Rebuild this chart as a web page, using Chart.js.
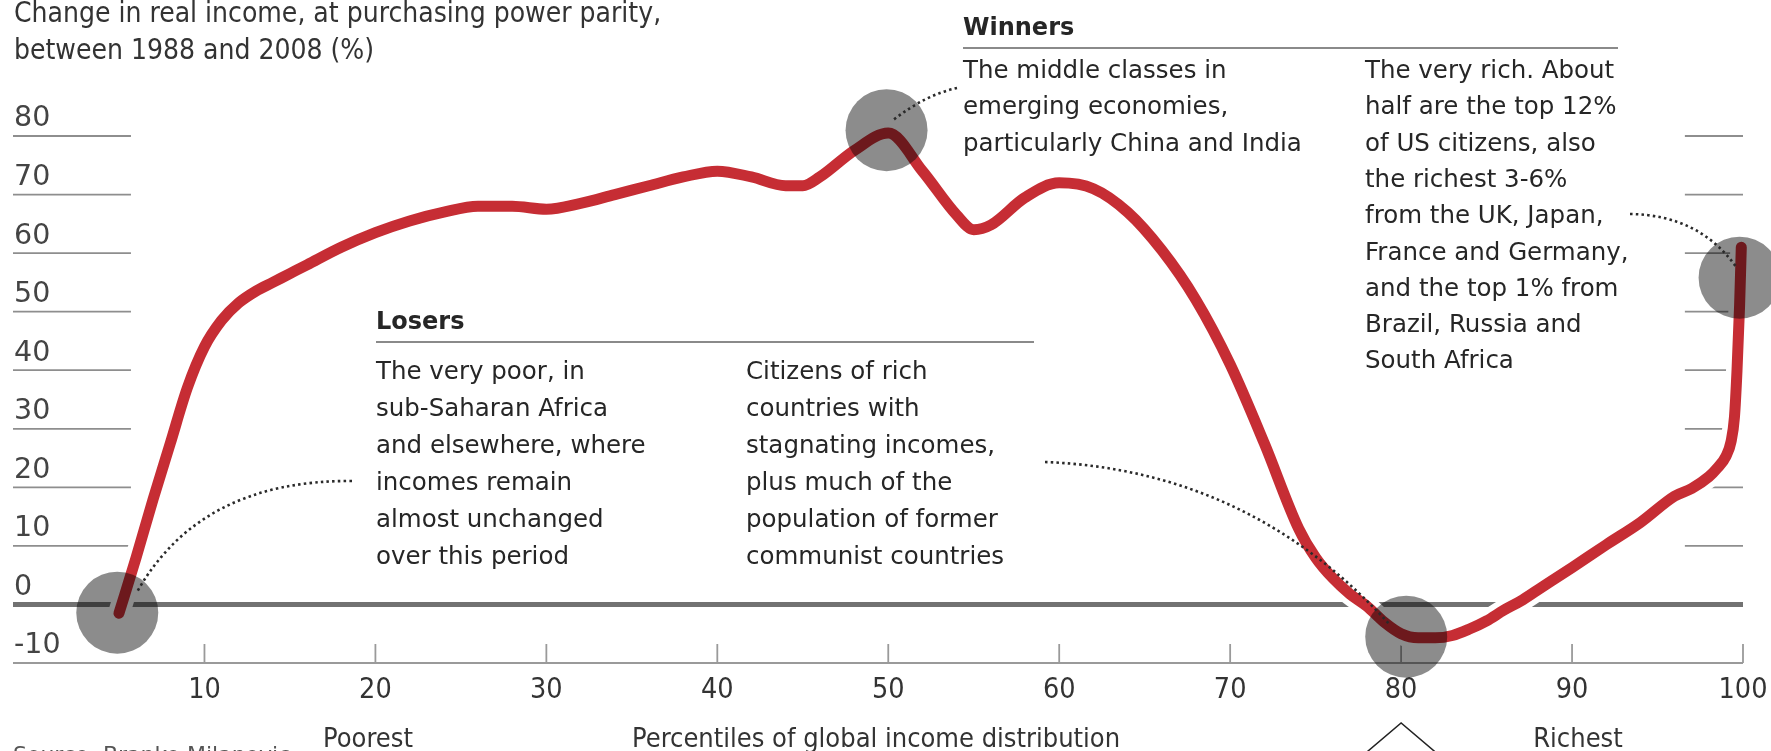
<!DOCTYPE html>
<html><head><meta charset="utf-8">
<script src="https://cdn.jsdelivr.net/npm/chart.js@4.4.1/dist/chart.umd.min.js"></script>
<style>html,body{margin:0;padding:0;background:#fff;overflow:hidden}#c{display:block}</style>
</head><body>
<canvas id="c" width="1771" height="751"></canvas>
<script>
// ---- data ----
const percentiles = [5,6,7,8,9,10,11,12,13,14,15,16,18,20,22,24,26,28,30,32,34,36,38,40,42,44,45,46,48,50,52,54,55,56,58,60,62,64,66,68,70,72,74,75,76,77,78,79,80,81,82,83,84,85,86,87,88,90,92,94,96,97,98,98.5,99,99.3,99.5,99.65,99.8,99.9];
const incomeChange = [-1.5,8,18,27.5,37,44,48.5,51.5,53.5,55,56.5,58,61,63.5,65.5,67,68,68,67.5,68.5,70,71.5,73,74,73,71.5,71.5,73,77.5,80.5,74,66.5,64,64.8,69.5,72,71,67,60.5,52,41,27.5,13,8,4.5,1.8,-0.3,-3,-5,-5.7,-5.7,-5.3,-4.2,-2.8,-1,0.6,2.5,6.3,10.2,14,18.5,19.8,21.8,23.3,25.3,27.8,32,40,51,61];
const markerPercentiles = [4.9, 49.9, 80.3, 99.8];
const markerValues = [-1.4, 81, -5.5, 55.8];
const xTickValues = [10,20,30,40,50,60,70,80,90,100];
const yTickValues = [-10,0,10,20,30,40,50,60,70,80];
const titleLines = ["Change in real income, at purchasing power parity,", "between 1988 and 2008 (%)"];
const winnersLeft = ["The middle classes in","emerging economies,","particularly China and India"];
const winnersRight = ["The very rich. About","half are the top 12%","of US citizens, also","the richest 3-6%","from the UK, Japan,","France and Germany,","and the top 1% from","Brazil, Russia and","South Africa"];
const losersLeft = ["The very poor, in","sub-Saharan Africa","and elsewhere, where","incomes remain","almost unchanged","over this period"];
const losersRight = ["Citizens of rich","countries with","stagnating incomes,","plus much of the","population of former","communist countries"];
const axisWords = ["Poorest","Percentiles of global income distribution","Richest"];
const sourceText = "Source: Branko Milanovic";

// ---- fonts ----
function hasFont(name){
  const c=document.createElement('canvas').getContext('2d');
  const s='Percentiles of global income 0123456789';
  c.font='40px monospace'; const a=c.measureText(s).width;
  c.font='40px "'+name+'", monospace'; const b=c.measureText(s).width;
  return Math.abs(a-b)>0.5;
}
const condOK = hasFont('DejaVu Sans Condensed');
function condFont(size, weight){
  return condOK ? (weight||'normal')+' '+size+'px "DejaVu Sans Condensed"' : (weight||'normal')+' '+(size*0.9).toFixed(1)+'px "DejaVu Sans"';
}
const condFamily = condOK ? '"DejaVu Sans Condensed"' : '"DejaVu Sans"';
const condTickSize = condOK ? 28.5 : 25.6;

const X_MIN = -1.2, X_MAX = 100;
const GRID_LEFT_END = 5.7, GRID_RIGHT_START = 96.6;

const decor = {
  id:'decor',
  beforeDatasetsDraw(chart){
    const {ctx, chartArea:a, scales:{x,y}} = chart;
    ctx.save();
    yTickValues.forEach(v=>{
      const yy = y.getPixelForValue(v);
      ctx.beginPath();
      if (v===0){ ctx.strokeStyle='#727272'; ctx.lineWidth=5; ctx.moveTo(a.left,yy); ctx.lineTo(a.right,yy); }
      else if (v===-10){ ctx.strokeStyle='#9a9a9a'; ctx.lineWidth=2; ctx.moveTo(a.left,yy); ctx.lineTo(a.right,yy); }
      else {
        ctx.strokeStyle='#8e8e8e'; ctx.lineWidth=1.8;
        ctx.moveTo(x.getPixelForValue(X_MIN),yy); ctx.lineTo(x.getPixelForValue(GRID_LEFT_END),yy);
        ctx.moveTo(x.getPixelForValue(GRID_RIGHT_START),yy); ctx.lineTo(x.getPixelForValue(X_MAX),yy);
      }
      ctx.stroke();
    });
    ctx.strokeStyle='#9a9a9a'; ctx.lineWidth=1.8;
    const yb = y.getPixelForValue(-10);
    xTickValues.forEach(v=>{
      const xx = x.getPixelForValue(v);
      ctx.beginPath(); ctx.moveTo(xx,yb); ctx.lineTo(xx,yb-19); ctx.stroke();
    });
    ctx.restore();
  },
  beforeDatasetDraw(chart, args){
    if (args.index===0){ chart.ctx.save(); chart.ctx.globalCompositeOperation='multiply'; }
  },
  afterDatasetDraw(chart, args){
    if (args.index===0){ chart.ctx.restore(); }
  },
  afterDraw(chart){
    const {ctx, scales:{x,y}} = chart;
    ctx.save();
    const body = '24.5px "DejaVu Sans"';
    const bold = 'bold 24px "DejaVu Sans"';
    const col = '#262626';
    function t(str, px, py, font, align, color){
      ctx.font=font; ctx.fillStyle=color||col; ctx.textAlign=align||'left'; ctx.textBaseline='alphabetic'; ctx.fillText(str, px, py);
    }
    function lines(arr, px, py0, step){ arr.forEach((s,i)=>t(s, px, py0+i*step, body)); }
    // title
    t(titleLines[0], 14, 22, condFont(28), 'left', '#333');
    t(titleLines[1], 14, 59, condFont(28), 'left', '#333');
    // winners
    t('Winners', 963, 35, bold);
    ctx.strokeStyle='#8a8a8a'; ctx.lineWidth=2;
    ctx.beginPath(); ctx.moveTo(963,48); ctx.lineTo(1618,48); ctx.stroke();
    lines(winnersLeft, 963, 78, 36.3);
    lines(winnersRight, 1365, 78, 36.3);
    // losers
    t('Losers', 376, 329, bold);
    ctx.beginPath(); ctx.moveTo(376,342); ctx.lineTo(1034,342); ctx.stroke();
    lines(losersLeft, 376, 379, 37);
    lines(losersRight, 746, 379, 37);
    // bottom words
    t(axisWords[0], 368, 747, condFont(27), 'center', '#333');
    t(axisWords[1], 632, 747, condFont(27), 'left', '#333');
    t(axisWords[2], 1578, 747, condFont(27), 'center', '#333');
    // source (cut by bottom edge)
    ctx.font='22px "DejaVu Sans"'; ctx.fillStyle='#555'; ctx.textAlign='left'; ctx.textBaseline='top';
    ctx.fillText(sourceText, 13, 745);
    // dotted leaders
    ctx.setLineDash([2.5,3.2]); ctx.lineWidth=2.6; ctx.strokeStyle='#2a2a2a';
    function leader(sx, sy, cx, cy, ep, ev){
      ctx.beginPath(); ctx.moveTo(sx,sy);
      ctx.quadraticCurveTo(cx,cy, x.getPixelForValue(ep), y.getPixelForValue(ev));
      ctx.stroke();
    }
    leader(957, 88, 925, 95, 50.28, 82.7);
    leader(352, 481, 200, 480, 6.05, 2.1);
    leader(1045, 462, 1250, 470, 79.35, -3.5);
    leader(1630, 214, 1700, 215, 99.66, 57.4);
    ctx.setLineDash([]);
    // caret at bottom under 80
    const cx80 = x.getPixelForValue(80);
    ctx.strokeStyle='#222'; ctx.lineWidth=1.5;
    ctx.beginPath(); ctx.moveTo(cx80-46,762); ctx.lineTo(cx80,723); ctx.lineTo(cx80+46,762); ctx.stroke();
    ctx.restore();
  }
};

const lineData = percentiles.map((p,i)=>({x:p, y:incomeChange[i]}));
new Chart(document.getElementById('c'), {
  type:'line',
  data:{ datasets:[
    { label:'groups', data: markerPercentiles.map((p,i)=>({x:p,y:markerValues[i]})), showLine:false,
      pointRadius:41, pointHoverRadius:41, pointBackgroundColor:'#8c8c8c', pointBorderWidth:0, clip:false },
    { label:'income', data: lineData, borderColor:'#c62d34', borderWidth:11, pointRadius:0,
      cubicInterpolationMode:'monotone', fill:false, clip:false, borderCapStyle:'round', borderJoinStyle:'round' },
    { label:'halo', data: lineData, borderColor:'#ffffff', borderWidth:22, pointRadius:0,
      cubicInterpolationMode:'monotone', fill:false, clip:false, borderCapStyle:'round', borderJoinStyle:'round' }
  ]},
  options:{
    responsive:false, animation:false, devicePixelRatio:1,
    layout:{ autoPadding:false, padding:{ left:13, right:28, top:136, bottom:44 } },
    plugins:{ legend:{display:false}, tooltip:{enabled:false} },
    events:[],
    scales:{
      x:{ type:'linear', min:X_MIN, max:X_MAX,
        afterBuildTicks:(ax)=>{ ax.ticks = xTickValues.map(v=>({value:v})); },
        afterFit:(ax)=>{ ax.paddingLeft=0; ax.paddingRight=0; ax.height=44; },
        grid:{display:false, drawTicks:false}, border:{display:false},
        ticks:{ autoSkip:false, maxRotation:0, padding:10, color:'#333',
          font:{ family: condFamily, size: condTickSize } } },
      y:{ type:'linear', min:-10, max:80, position:'left',
        afterBuildTicks:(ax)=>{ ax.ticks = yTickValues.map(v=>({value:v})); },
        afterFit:(ax)=>{ ax.width=0; ax.paddingTop=0; ax.paddingBottom=0; },
        grid:{display:false, drawTicks:false}, border:{display:false},
        ticks:{ mirror:true, padding:1, labelOffset:-17, color:'#444',
          font:{ family:'"DejaVu Sans"', size:28.5 } } }
    }
  },
  plugins:[decor]
});
</script>
</body></html>
